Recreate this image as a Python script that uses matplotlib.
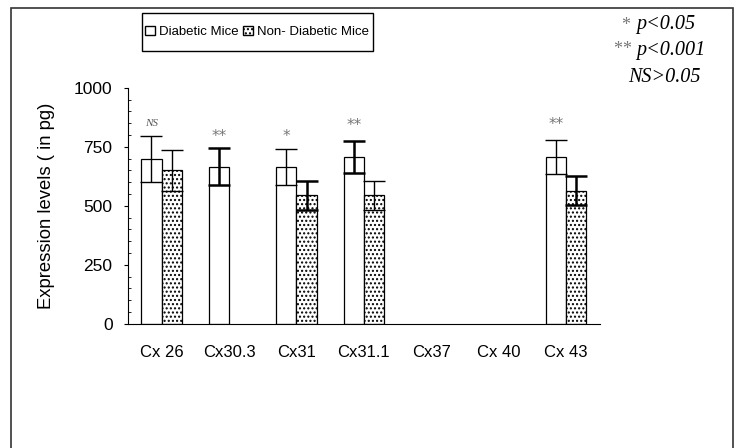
import matplotlib.pyplot as plt
import matplotlib.patches as mpatches
import numpy as np

categories = ['Cx 26', 'Cx30.3', 'Cx31', 'Cx31.1', 'Cx37', 'Cx 40', 'Cx 43']
diabetic = [700, 665, 665, 708, 0, 0, 708]
diabetic_err = [97, 78, 75, 67, 0, 0, 72]
non_diabetic = [650, 0, 545, 545, 0, 0, 565]
non_diabetic_err = [87, 0, 62, 62, 0, 0, 62]
signif = ['NS', '**', '*', '**', '', '', '**']
signif_y = [850, 795, 795, 840, 0, 0, 845]

plt.rcParams['font.family'] = ['Liberation Sans', 'DejaVu Sans']


def main():
    fig = plt.figure(figsize=(7.35, 4.48), dpi=100)
    ax = fig.add_axes([0.174, 0.277, 0.642, 0.527])

    # outer frame of the original figure
    fig.patches.append(mpatches.Rectangle((11 / 735, -0.1), 722 / 735, 1.1 - 8 / 448,
                                          transform=fig.transFigure, fill=False,
                                          edgecolor='#333333', linewidth=1.2))
    # legend frame drawn by hand (tight sides, tall box)
    fig.patches.append(mpatches.Rectangle((142 / 735, 1 - 51 / 448), 231 / 735, 38 / 448,
                                          transform=fig.transFigure, fill=False,
                                          edgecolor='black', linewidth=1.0))

    x = np.arange(len(categories))
    w = 0.3
    d_lw = [1.0, 1.8, 1.0, 1.8, 1, 1, 1.0]
    n_lw = [1.0, 1, 1.8, 1.0, 1, 1, 1.8]
    for i in range(len(categories)):
        if diabetic[i] > 0:
            ax.bar(x[i] - w / 2, diabetic[i], w, color='white', edgecolor='black', linewidth=0.9)
            ax.errorbar(x[i] - w / 2, diabetic[i], yerr=diabetic_err[i], fmt='none',
                        ecolor='black', elinewidth=d_lw[i], capsize=8, capthick=d_lw[i])
        if non_diabetic[i] > 0:
            ax.bar(x[i] + w / 2, non_diabetic[i], w, color='white', edgecolor='black',
                   hatch='....', linewidth=0.9)
            ax.errorbar(x[i] + w / 2, non_diabetic[i], yerr=non_diabetic_err[i], fmt='none',
                        ecolor='black', elinewidth=n_lw[i], capsize=8, capthick=n_lw[i])
        if signif[i] == 'NS':
            ax.text(x[i] - w / 2, signif_y[i], 'NS', ha='center', va='center', fontsize=8,
                    family='Liberation Serif', style='italic', color='#555555')
        elif signif[i]:
            ax.text(x[i] - w / 2, signif_y[i], signif[i], ha='center', va='center',
                    fontsize=11, family='DejaVu Sans', color='#777777')

    ax.set_xlim(-0.5, len(categories) - 0.5)
    ax.set_ylim(0, 1000)
    ax.set_yticks([0, 250, 500, 750, 1000])
    ax.set_yticks(np.arange(0, 1001, 50), minor=True)
    ax.set_xticks(x)
    ax.set_xticklabels(categories, fontsize=12)
    ax.tick_params(axis='x', length=0, pad=15)
    ax.tick_params(axis='y', which='major', direction='out', length=3, labelsize=12.5, pad=8)
    ax.tick_params(axis='y', which='minor', direction='in', length=2)
    ax.spines['top'].set_visible(False)
    ax.spines['right'].set_visible(False)
    ax.set_ylabel('Expression levels ( in pg)', fontsize=13.3, labelpad=14)

    h1 = mpatches.Patch(facecolor='white', edgecolor='black', label='Diabetic Mice')
    h2 = mpatches.Patch(facecolor='white', edgecolor='black', hatch='....',
                        label='Non- Diabetic Mice')
    fig.legend(handles=[h1, h2], loc='center', bbox_to_anchor=(257 / 735, 1 - 32 / 448),
               ncol=2, frameon=False, handlelength=0.75, handleheight=0.75,
               handletextpad=0.3, columnspacing=0.4, borderpad=0, borderaxespad=0,
               fontsize=9.5)

    notes = [('*', 'p<0.05', 25), ('**', 'p<0.001', 50), ('', 'NS>0.05', 78)]
    for star, txt, ypix in notes:
        yf = 1 - ypix / 448
        if star:
            fig.text(636 / 735, yf, star + ' ', ha='right', va='center', fontsize=13,
                     family='Liberation Serif', color='#777777')
            fig.text(636 / 735, yf, txt, ha='left', va='center', fontsize=14.5,
                     family='Liberation Serif', style='italic')
        else:
            fig.text(701 / 735, yf, txt, ha='right', va='center', fontsize=14.5,
                     family='Liberation Serif', style='italic')

    fig.savefig('out.png', dpi=100)


if __name__ == '__main__':
    main()
